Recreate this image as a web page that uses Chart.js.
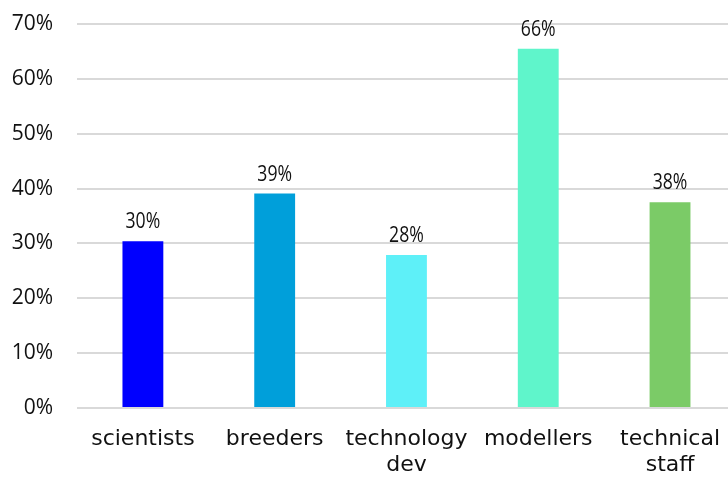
<!DOCTYPE html>
<html>
<head>
<meta charset="utf-8">
<script src="https://cdn.jsdelivr.net/npm/chart.js@4"></script>
<style>
  html, body { margin: 0; padding: 0; background: #ffffff; overflow: hidden; }
  #wrap { width: 728px; height: 479px; overflow: hidden; }
</style>
</head>
<body>
<div id="wrap"><canvas id="c" width="738" height="479"></canvas></div>
<script>
// Share of respondents per group
const categories = [['scientists'], ['breeders'], ['technology', 'dev'], ['modellers'], ['technical', 'staff']];
const shares = [30.4, 39.1, 27.9, 65.5, 37.5];
const barColors = ['#0000FF', '#009FDA', '#5EF0F8', '#5FF5CB', '#7BCB67'];
const yTicks = [0, 10, 20, 30, 40, 50, 60, 70];

// Percent labels printed above each bar
const valueLabels = {
  id: 'valueLabels',
  afterDatasetsDraw(chart) {
    const ctx = chart.ctx;
    const meta = chart.getDatasetMeta(0);
    ctx.save();
    ctx.fillStyle = '#111111';
    ctx.font = '21px "Open Sans"';
    ctx.textAlign = 'center';
    ctx.textBaseline = 'alphabetic';
    meta.data.forEach((bar, i) => {
      const text = Math.round(shares[i]) + '%';
      ctx.save();
      ctx.translate(bar.x, bar.y - 13);
      ctx.scale(0.84, 1.05);
      ctx.fillText(text, 0, 0);
      ctx.restore();
    });
    ctx.restore();
  }
};

new Chart(document.getElementById('c'), {
  type: 'bar',
  data: {
    labels: categories,
    datasets: [{
      data: shares,
      backgroundColor: barColors,
      borderWidth: 0,
      categoryPercentage: 1,
      barPercentage: 0.31
    }]
  },
  options: {
    responsive: false,
    animation: false,
    layout: { padding: { top: 24, right: 0, bottom: 0, left: 0 } },
    plugins: { legend: { display: false }, tooltip: { enabled: false } },
    scales: {
      x: {
        grid: { display: false, drawTicks: false },
        border: { display: false },
        ticks: {
          color: '#111111',
          font: { family: '"DejaVu Sans"', size: 22, lineHeight: 1.2 },
          padding: 18,
          maxRotation: 0,
          autoSkip: false
        },
        afterFit(scale) { scale.height = 71; }
      },
      y: {
        min: 0,
        max: 70,
        afterBuildTicks(scale) { scale.ticks = yTicks.map(v => ({ value: v })); },
        grid: { color: '#D9D9D9', lineWidth: 2, drawTicks: false },
        border: { display: false },
        ticks: {
          color: '#111111',
          font: { family: '"Open Sans"', size: 21 },
          padding: 24,
          callback: v => v + '%'
        },
        afterFit(scale) {
          scale.width = 77;
          scale.paddingTop = 0;
          scale.paddingBottom = 0;
        }
      }
    }
  },
  plugins: [valueLabels]
});
</script>
</body>
</html>
